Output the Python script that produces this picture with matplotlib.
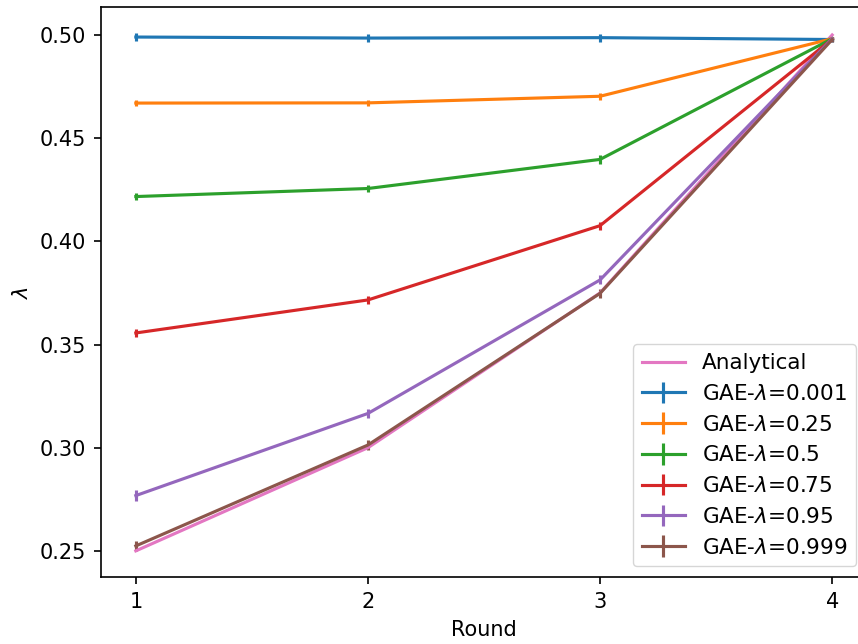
import numpy as np
import matplotlib.pyplot as plt

rounds = [1, 2, 3, 4]
gae_lambdas = ['0.001', '0.25', '0.5', '0.75', '0.95', '0.999']

# mean lambda per round for each GAE-lambda setting
means = [
    [0.4990, 0.4985, 0.4987, 0.4978],
    [0.4670, 0.4671, 0.4703, 0.4982],
    [0.4217, 0.4256, 0.4397, 0.4982],
    [0.3556, 0.3716, 0.4076, 0.4980],
    [0.2768, 0.3166, 0.3813, 0.4982],
    [0.2524, 0.3013, 0.3748, 0.4978],
]
errs = [
    [0.0020, 0.0018, 0.0020, 0.0010],
    [0.0015, 0.0015, 0.0018, 0.0010],
    [0.0018, 0.0018, 0.0020, 0.0010],
    [0.0018, 0.0020, 0.0020, 0.0010],
    [0.0027, 0.0022, 0.0022, 0.0010],
    [0.0025, 0.0022, 0.0022, 0.0010],
]
analytical = [0.25, 0.30, 0.375, 0.50]

s = 1.5  # scale from a 150 dpi original
plt.rcParams['font.size'] = 10 * s
plt.rcParams['axes.linewidth'] = 0.8 * s
plt.rcParams['xtick.major.size'] = 3.5 * s
plt.rcParams['ytick.major.size'] = 3.5 * s
plt.rcParams['xtick.major.width'] = 0.8 * s
plt.rcParams['ytick.major.width'] = 0.8 * s
plt.rcParams['xtick.major.pad'] = 3.5 * s
plt.rcParams['ytick.major.pad'] = 3.5 * s
plt.rcParams['axes.labelpad'] = 4 * s

fig = plt.figure(figsize=(8.58, 6.44), dpi=100)
ax = fig.add_axes([101 / 858, 67 / 644, 766 / 858, 570 / 644])

for lam, m, e in zip(gae_lambdas, means, errs):
    ax.errorbar(rounds, m, yerr=e, lw=1.5 * s, elinewidth=1.5 * s, label='GAE-$\\lambda$=' + lam)
ax.plot(rounds, analytical, lw=1.5 * s, label='Analytical')

ax.set_xticks(rounds)
ax.set_xlabel('Round')
ax.set_ylabel('$\\lambda$')
ax.legend(loc='lower right', fontsize=15.5)

fig.savefig('out.png', dpi=100)
